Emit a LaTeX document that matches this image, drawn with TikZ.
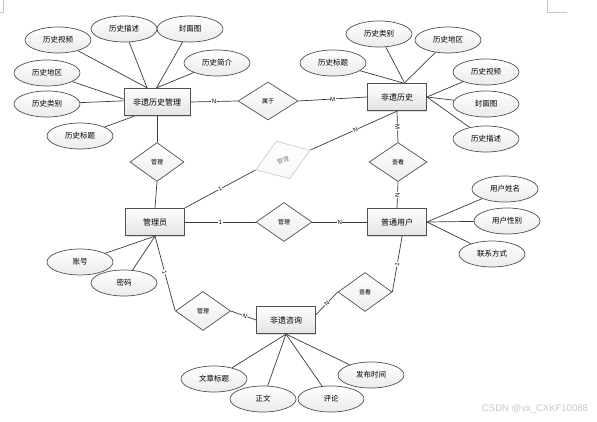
\documentclass[tikz,border=0pt]{standalone}
\usepackage{fontspec}
\setmainfont{Noto Sans CJK SC}
\newfontfamily\latinfont{Liberation Sans}
\usetikzlibrary{shapes.geometric,shadows}
\definecolor{linec}{HTML}{3A3A3A}
\definecolor{entc}{HTML}{505050}
\begin{document}
\begin{tikzpicture}[x=1pt,y=-1pt,
  conn/.style={draw=linec, line width=0.7pt},
  entity/.style={rectangle, draw=entc, line width=0.8pt, top color=white, bottom color=gray!22,
    minimum width=59pt, minimum height=27.5pt, inner sep=0pt, font=\fontsize{8}{9}\selectfont,
    drop shadow={shadow xshift=0.8pt, shadow yshift=-0.8pt, opacity=0.25}},
  attr/.style={ellipse, draw=entc, line width=0.7pt, top color=white, bottom color=gray!16,
    minimum width=66pt, minimum height=26pt, inner sep=0pt, font=\fontsize{7.5}{9}\selectfont},
  rel/.style={diamond, draw=entc, line width=0.7pt, top color=white, bottom color=gray!14,
    minimum width=56pt, minimum height=39pt, inner sep=0pt, font=\fontsize{6}{7}\selectfont},
  lab/.style={fill=white, inner sep=0.6pt, font=\latinfont\fontsize{6}{6}\selectfont},
]
\useasboundingbox (0,0) rectangle (597,421);
% page crop marks
\draw[gray!45, line width=0.5pt] (3,0) -- (3,12) -- (0,12);
\draw[gray!45, line width=0.5pt] (547,0) -- (547,12) -- (567,12);

% entities
\node[entity, minimum width=66pt] (h1) at (157,102) {非遗历史管理};
\node[entity] (h2) at (397,97) {非遗历史};
\node[entity] (a) at (155,222) {管理员};
\node[entity] (u) at (397,222) {普通用户};
\node[entity] (z) at (286,320) {非遗咨询};

% relationships
\node[rel, minimum width=60pt, minimum height=38pt] (s) at (268,101) {属于};
\node[rel, minimum width=54pt] (d1) at (157,162) {管理};
\node[rel, minimum width=58pt, minimum height=40pt, rotate=20, draw=gray!40, bottom color=gray!6, text=gray] (g) at (283,160) {管理};
\node[rel] (m) at (284,222) {管理};
\node[rel, minimum width=58pt] (c1) at (398,162) {查看};
\node[rel, minimum width=55pt] (d3) at (203,311) {管理};
\node[rel, minimum width=54pt] (c2) at (365,292) {查看};

% attributes of 非遗历史管理
\node[attr] (p1) at (58,40) {历史视频};
\node[attr] (p2) at (124,29) {历史描述};
\node[attr] (p3) at (190,29) {封面图};
\node[attr] (p4) at (217,63) {历史简介};
\node[attr] (p5) at (47,73) {历史地区};
\node[attr] (p6) at (47,104) {历史类别};
\node[attr] (p7) at (80,136) {历史标题};
% attributes of 非遗历史
\node[attr] (q1) at (379,34) {历史类别};
\node[attr] (q2) at (448,40) {历史地区};
\node[attr] (q3) at (333,63) {历史标题};
\node[attr] (q4) at (486,72) {历史视频};
\node[attr] (q5) at (486,104) {封面图};
\node[attr] (q6) at (486,139) {历史描述};
% attributes of 普通用户
\node[attr] (r1) at (505,189) {用户姓名};
\node[attr] (r2) at (507,221) {用户性别};
\node[attr] (r3) at (492,254) {联系方式};
% attributes of 管理员
\node[attr] (t1) at (80,262) {账号};
\node[attr] (t2) at (124,283) {密码};
% attributes of 非遗咨询
\node[attr] (w1) at (214,379) {文章标题};
\node[attr] (w2) at (263,399) {正文};
\node[attr] (w4) at (371,375) {发布时间};
\node[attr] (w3) at (331,399) {评论};

% attribute connectors
\draw[conn] (p1) -- (h1.125);
\draw[conn] (p2) -- (h1.125);
\draw[conn] (p3) -- (h1.92);
\draw[conn] (p4) -- (h1.92);
\draw[conn] (p5) -- (h1.175);
\draw[conn] (p6) -- (h1.178);
\draw[conn] (p7) -- (h1.212);
\draw[conn] (q1) -- (h2.62);
\draw[conn] (q2) -- (h2.62);
\draw[conn] (q3) -- (h2.68);
\draw[conn] (q4) -- (h2.east);
\draw[conn] (q5) -- (h2.east);
\draw[conn] (q6) -- (h2.east);
\draw[conn] (r1) -- (u.east);
\draw[conn] (r2) -- (u.east);
\draw[conn] (r3) -- (u.east);
\draw[conn] (t1) -- (a.south);
\draw[conn] (t2) -- (a.south);
\draw[conn] (w1) -- (z.south);
\draw[conn] (w2) -- (z.south);
\draw[conn] (w3) -- (z.south);
\draw[conn] (w4) -- (z.south);

% relationship connectors
\draw[conn] (h1.east) -- node[lab] {N} (s.west);
\draw[conn] (s.east) -- node[lab] {M} (h2.west);
\draw[conn] (h1.south) -- (d1.north);
\draw[conn] (d1.south) -- (a.north);
\draw[conn] (a.north east) -- node[lab, sloped] {1} (g.west);
\draw[conn] (g.east) -- node[lab, sloped, pos=0.52] {N} (h2.south);
\draw[conn] (h2.south) -- node[lab, sloped] {M} (c1.north);
\draw[conn] (c1.south) -- node[lab, sloped] {N} (u.north);
\draw[conn] (a.east) -- node[lab] {1} (m.west);
\draw[conn] (m.east) -- node[lab] {N} (u.west);
\draw[conn] (a.south) -- node[lab, sloped, pos=0.48] {1} (d3.west);
\draw[conn] (d3.east) -- node[lab, sloped, pos=0.55] {N} (z.west);
\draw[conn] (u.290) -- node[lab, sloped] {1} (c2.east);
\draw[conn] (c2.west) -- node[lab, sloped] {N} (z.10);

% watermark
\node[text=gray!45, font=\latinfont\fontsize{9.5}{10}\selectfont, inner sep=0pt] (wm) at (535,409) {CSDN @vx\_CXKF10088};
\end{tikzpicture}
\end{document}
